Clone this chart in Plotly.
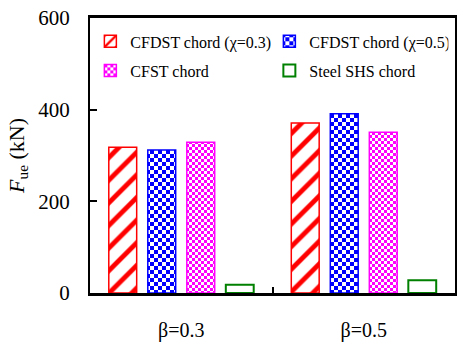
import plotly.graph_objects as go

# Ultimate load F_ue of the joints for each chord type
groups = ["β=0.3", "β=0.5"]
cfdst_03 = [318, 371]
cfdst_05 = [312, 391]
cfst = [329, 351]
steel_shs = [18, 28]

names = ["CFDST chord (χ=0.3)", "CFDST chord (χ=0.5)", "CFST chord", "Steel SHS chord"]
y_ticks = [0, 200, 400, 600]

FONT = "Liberation Serif"

fig = go.Figure()

fig.add_trace(go.Bar(
    x=groups, y=cfdst_03, name=names[0], legend="legend",
    marker=dict(color="white",
                line=dict(color="#ff0000", width=1.5),
                pattern=dict(shape="/", fgcolor="#ff0000", bgcolor="white",
                             fgopacity=1, size=16, solidity=0.3)),
))
fig.add_trace(go.Bar(
    x=groups, y=cfdst_05, name=names[1], legend="legend",
    marker=dict(color="white",
                line=dict(color="#0000ff", width=1.5),
                pattern=dict(shape="+", fgcolor="#0000ff", bgcolor="white",
                             fgopacity=1, size=8, solidity=0.5)),
))
fig.add_trace(go.Bar(
    x=groups, y=cfst, name=names[2], legend="legend2",
    marker=dict(color="white",
                line=dict(color="#ff00ff", width=1.5),
                pattern=dict(shape="+", fgcolor="#ff00ff", bgcolor="white",
                             fgopacity=1, size=5, solidity=0.5)),
))
fig.add_trace(go.Bar(
    x=groups, y=steel_shs, name=names[3], legend="legend2",
    marker=dict(color="white", line=dict(color="#008000", width=2)),
))

legend_common = dict(
    orientation="h", xanchor="left", yanchor="middle",
    font=dict(family=FONT, size=16, color="black"),
    bgcolor="rgba(0,0,0,0)", entrywidth=134, entrywidthmode="pixels",
    itemclick=False, itemdoubleclick=False,
)

fig.update_layout(
    width=461, height=349,
    margin=dict(l=90, r=4, t=18, b=56),
    paper_bgcolor="white", plot_bgcolor="white",
    font=dict(family=FONT, size=20, color="black"),
    barmode="group", bargap=0.145, bargroupgap=0.285,
    showlegend=True,
    legend=dict(x=0.001, y=0.915, **legend_common),
    legend2=dict(x=0.001, y=0.809, **legend_common),
    xaxis=dict(
        type="category", range=[-0.5, 1.5], tickson="boundaries",
        ticks="inside", ticklen=6, tickwidth=1.5, tickcolor="black",
        showline=True, linecolor="black", linewidth=2.5, mirror=True,
        showgrid=False, tickfont=dict(family=FONT, size=20), ticklabelstandoff=17,
    ),
    yaxis=dict(
        range=[0, 600], tickvals=y_ticks,
        ticks="inside", ticklen=7, tickwidth=2, tickcolor="black",
        showline=True, linecolor="black", linewidth=2, mirror=True,
        showgrid=False, zeroline=False, tickfont=dict(family=FONT, size=21),
        ticklabelstandoff=14,
        title=dict(text="<i>F</i><sub>ue</sub> (kN)",
                   font=dict(family=FONT, size=22), standoff=8),
    ),
)

# Checkerboard fills for the CFDST (χ=0.5) and CFST bars and their legend keys
checker_js = """
var gd = document.getElementById('{plot_id}');
var NS = 'http://www.w3.org/2000/svg';
var defs = gd.querySelector('svg.main-svg defs');
function makeChecker(id, color, a) {
  var p = document.createElementNS(NS, 'pattern');
  p.setAttribute('id', id);
  p.setAttribute('patternUnits', 'userSpaceOnUse');
  p.setAttribute('width', 2 * a);
  p.setAttribute('height', 2 * a);
  function rect(x, y, w, h, c) {
    var e = document.createElementNS(NS, 'rect');
    e.setAttribute('x', x); e.setAttribute('y', y);
    e.setAttribute('width', w); e.setAttribute('height', h);
    e.setAttribute('fill', c);
    e.setAttribute('shape-rendering', 'crispEdges');
    p.appendChild(e);
  }
  rect(0, 0, 2 * a, 2 * a, 'white');
  rect(0, 0, a, a, color);
  rect(a, a, a, a, color);
  defs.appendChild(p);
}
makeChecker('chk-blue', '#0000ff', 4);
makeChecker('chk-magenta', '#ff00ff', 3);
var fills = {1: "url('#chk-blue')", 2: "url('#chk-magenta')"};
function traceIndex(el) {
  var d = el.__data__;
  while (Array.isArray(d)) d = d[0];
  return (d && d.trace) ? d.trace.index : -1;
}
gd.querySelectorAll('.barlayer .trace').forEach(function(g) {
  var k = traceIndex(g);
  if (fills[k]) g.querySelectorAll('path').forEach(function(p) { p.style.fill = fills[k]; });
});
gd.querySelectorAll('g.traces').forEach(function(g) {
  var k = traceIndex(g);
  if (fills[k]) g.querySelectorAll('.legendpoints path').forEach(function(p) { p.style.fill = fills[k]; });
});
"""

fig.write_html("out.html", post_script=checker_js)
